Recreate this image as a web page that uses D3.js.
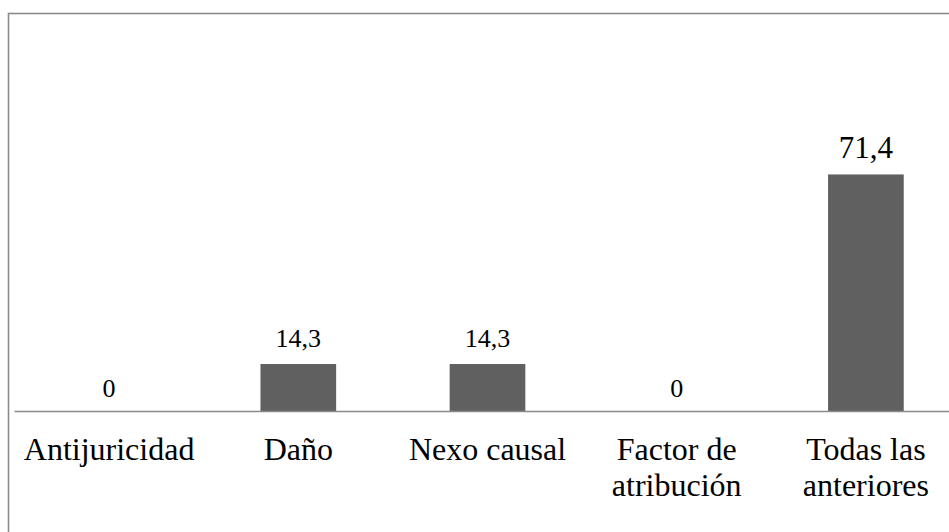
<!DOCTYPE html>
<html>
<head>
<meta charset="utf-8">
<script src="https://cdn.jsdelivr.net/npm/d3@7"></script>
<style>
  body { margin: 0; background: #fff; }
  svg { display: block; }
</style>
</head>
<body>
<svg width="949" height="532"></svg>
<script>
var categories = ["Antijuricidad", "Daño", "Nexo causal", "Factor de atribución", "Todas las anteriores"];
var categoryLines = [["Antijuricidad"], ["Daño"], ["Nexo causal"], ["Factor de", "atribución"], ["Todas las", "anteriores"]];
var values = [0, 14.3, 14.3, 0, 71.4];
var valueLabels = ["0", "14,3", "14,3", "0", "71,4"];

var svg = d3.select("svg")
      .attr("font-family", "'Liberation Serif', 'Times New Roman', serif"),
    baseY = 411.5;

// outer frame, only top and left edges fall inside the picture
svg.append("rect")
  .attr("x", 8.5)
  .attr("y", 13.5)
  .attr("width", 1000)
  .attr("height", 600)
  .attr("fill", "none")
  .attr("stroke", "#8a8a8a")
  .attr("stroke-width", 1.6);

var x = d3.scaleBand()
  .domain(categories)
  .range([14.5, 960.5])
  .padding(0);

var y = d3.scaleLinear()
  .domain([0, 100])
  .range([baseY, baseY - 332]);

var bw = x.bandwidth() * 0.4;

svg.selectAll(".bar")
  .data(values)
  .enter().append("rect")
    .attr("class", "bar")
    .attr("x", function(d, i) { return x(categories[i]) + (x.bandwidth() - bw) / 2; })
    .attr("y", function(d) { return y(d); })
    .attr("width", bw)
    .attr("height", function(d) { return y(0) - y(d); })
    .attr("fill", "#606060");

// baseline
svg.append("line")
  .attr("x1", x.range()[0])
  .attr("x2", x.range()[1])
  .attr("y1", baseY)
  .attr("y2", baseY)
  .attr("stroke", "#8a8a8a")
  .attr("stroke-width", 1.6);

// value labels
svg.selectAll(".val")
  .data(values)
  .enter().append("text")
    .attr("class", "val")
    .attr("x", function(d, i) { return x(categories[i]) + x.bandwidth() / 2; })
    .attr("y", function(d) { return d > 0 ? y(d) - 16.6 : y(d) - 15; })
    .attr("text-anchor", "middle")
    .attr("font-size", function(d) { return d > 50 ? 31 : 26; })
    .text(function(d, i) { return valueLabels[i]; });

// category labels
var cat = svg.selectAll(".cat")
  .data(categoryLines)
  .enter().append("text")
    .attr("class", "cat")
    .attr("text-anchor", "middle")
    .attr("font-size", 32)
    .attr("transform", function(d, i) {
      return "translate(" + (x(categories[i]) + x.bandwidth() / 2) + ",459.5)";
    });

cat.selectAll("tspan")
  .data(function(d) { return d; })
  .enter().append("tspan")
    .attr("x", 0)
    .attr("dy", function(d, i) { return i ? 36 : 0; })
    .text(function(d) { return d; });
</script>
</body>
</html>
